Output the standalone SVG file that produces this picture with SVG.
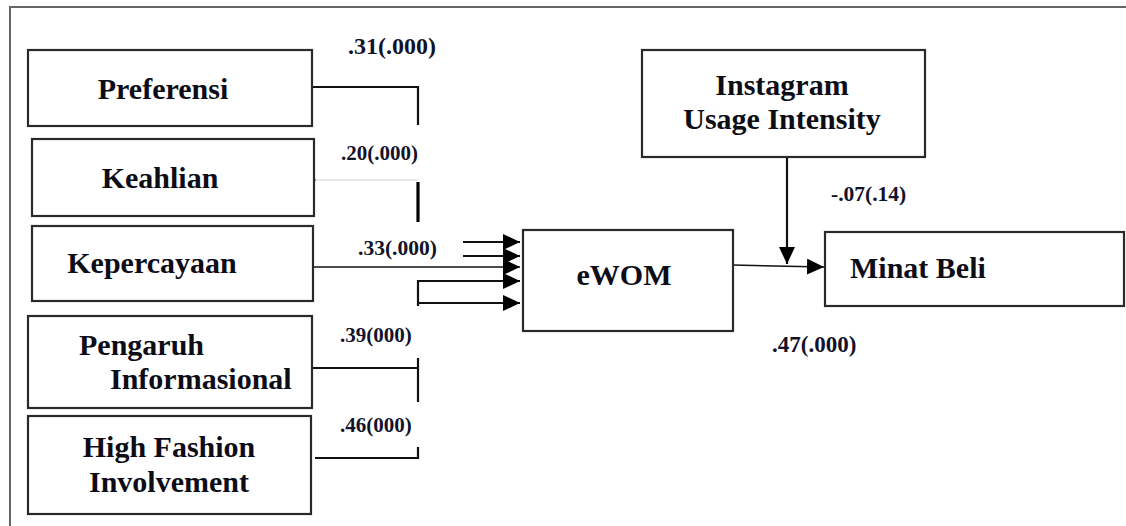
<svg xmlns="http://www.w3.org/2000/svg" width="1126" height="526" viewBox="0 0 1126 526">
<style>
.box{fill:#fff;stroke:#2a2a2a;stroke-width:2.2}
.t{font-family:"Liberation Serif","Times New Roman",serif;font-weight:bold;font-size:30px;fill:#0d0d18}
.lab{font-family:"Liberation Serif","Times New Roman",serif;font-weight:bold;fill:#12122a}
.ln{fill:none;stroke:#111;stroke-width:2.2}
.thin{fill:none;stroke:#111;stroke-width:1.5}
</style>
<defs>
<marker id="ah" markerWidth="17" markerHeight="16" refX="17" refY="8" orient="auto" markerUnits="userSpaceOnUse">
<path d="M0,0 L17,8 L0,16 Z" fill="#000"/>
</marker>
</defs>
<rect width="1126" height="526" fill="#fff"/>
<path d="M10,526 V7 H1126" fill="none" stroke="#666" stroke-width="2"/>

<g id="connectors">
<path class="ln" d="M312,87 H418 V125"/>
<path d="M314,180 H418" stroke="#d0d0d0" stroke-width="1" fill="none"/>
<circle cx="314" cy="180" r="1.5" fill="#111"/>
<path d="M418,182 V222" stroke="#000" stroke-width="3.2" fill="none"/>
<path class="thin" d="M313,267 H520" marker-end="url(#ah)"/>
<path class="ln" d="M463,242 H520" marker-end="url(#ah)"/>
<path class="ln" d="M463,256 H520" marker-end="url(#ah)"/>
<path class="ln" d="M520,281 H418 V306"/>
<path class="ln" d="M418,281 H520" marker-end="url(#ah)"/>
<path class="ln" d="M418,303 H520" marker-end="url(#ah)"/>
<path class="ln" d="M312,368 H418"/>
<path class="ln" d="M418,358 V402"/>
<path class="ln" d="M315,458 H418 V447"/>
<path class="ln" d="M787,157 V264" stroke-width="2.6" marker-end="url(#ah)"/>
<path class="thin" d="M733,265 L824,267" marker-end="url(#ah)"/>
</g>

<g id="preferensi"><rect class="box" x="28" y="50" width="284" height="76"/><text class="t" x="163" y="99" text-anchor="middle">Preferensi</text></g>
<g id="keahlian"><rect class="box" x="32" y="139" width="282" height="77"/><text class="t" x="160" y="188" text-anchor="middle">Keahlian</text></g>
<g id="kepercayaan"><rect class="box" x="32" y="226" width="281" height="75"/><text class="t" x="152" y="273" text-anchor="middle">Kepercayaan</text></g>
<g id="pengaruh"><rect class="box" x="28" y="316" width="284" height="92"/><text class="t" x="79" y="355">Pengaruh</text><text class="t" x="110" y="389">Informasional</text></g>
<g id="highfashion"><rect class="box" x="28" y="416" width="283" height="98"/><text class="t" x="169" y="457" text-anchor="middle">High Fashion</text><text class="t" x="169" y="492" text-anchor="middle">Involvement</text></g>
<g id="instagram"><rect class="box" x="642" y="50" width="283" height="107"/><text class="t" x="782" y="95" text-anchor="middle">Instagram</text><text class="t" x="782" y="129" text-anchor="middle">Usage Intensity</text></g>
<g id="ewom"><rect class="box" x="523" y="230" width="210" height="101"/><text class="t" x="624" y="285" text-anchor="middle">eWOM</text></g>
<g id="minatbeli"><rect class="box" x="825" y="232" width="299" height="74"/><text class="t" x="850" y="278">Minat Beli</text></g>

<g id="labels">
<text class="lab" x="348" y="54" font-size="24">.31(.000)</text>
<text class="lab" x="341" y="160" font-size="21">.20(.000)</text>
<text class="lab" x="358" y="255" font-size="21.5">.33(.000)</text>
<text class="lab" x="340" y="342" font-size="21">.39(000)</text>
<text class="lab" x="340" y="432" font-size="21">.46(000)</text>
<text class="lab" x="831" y="201" font-size="21.5">-.07(.14)</text>
<text class="lab" x="772" y="352" font-size="23">.47(.000)</text>
</g>
</svg>
